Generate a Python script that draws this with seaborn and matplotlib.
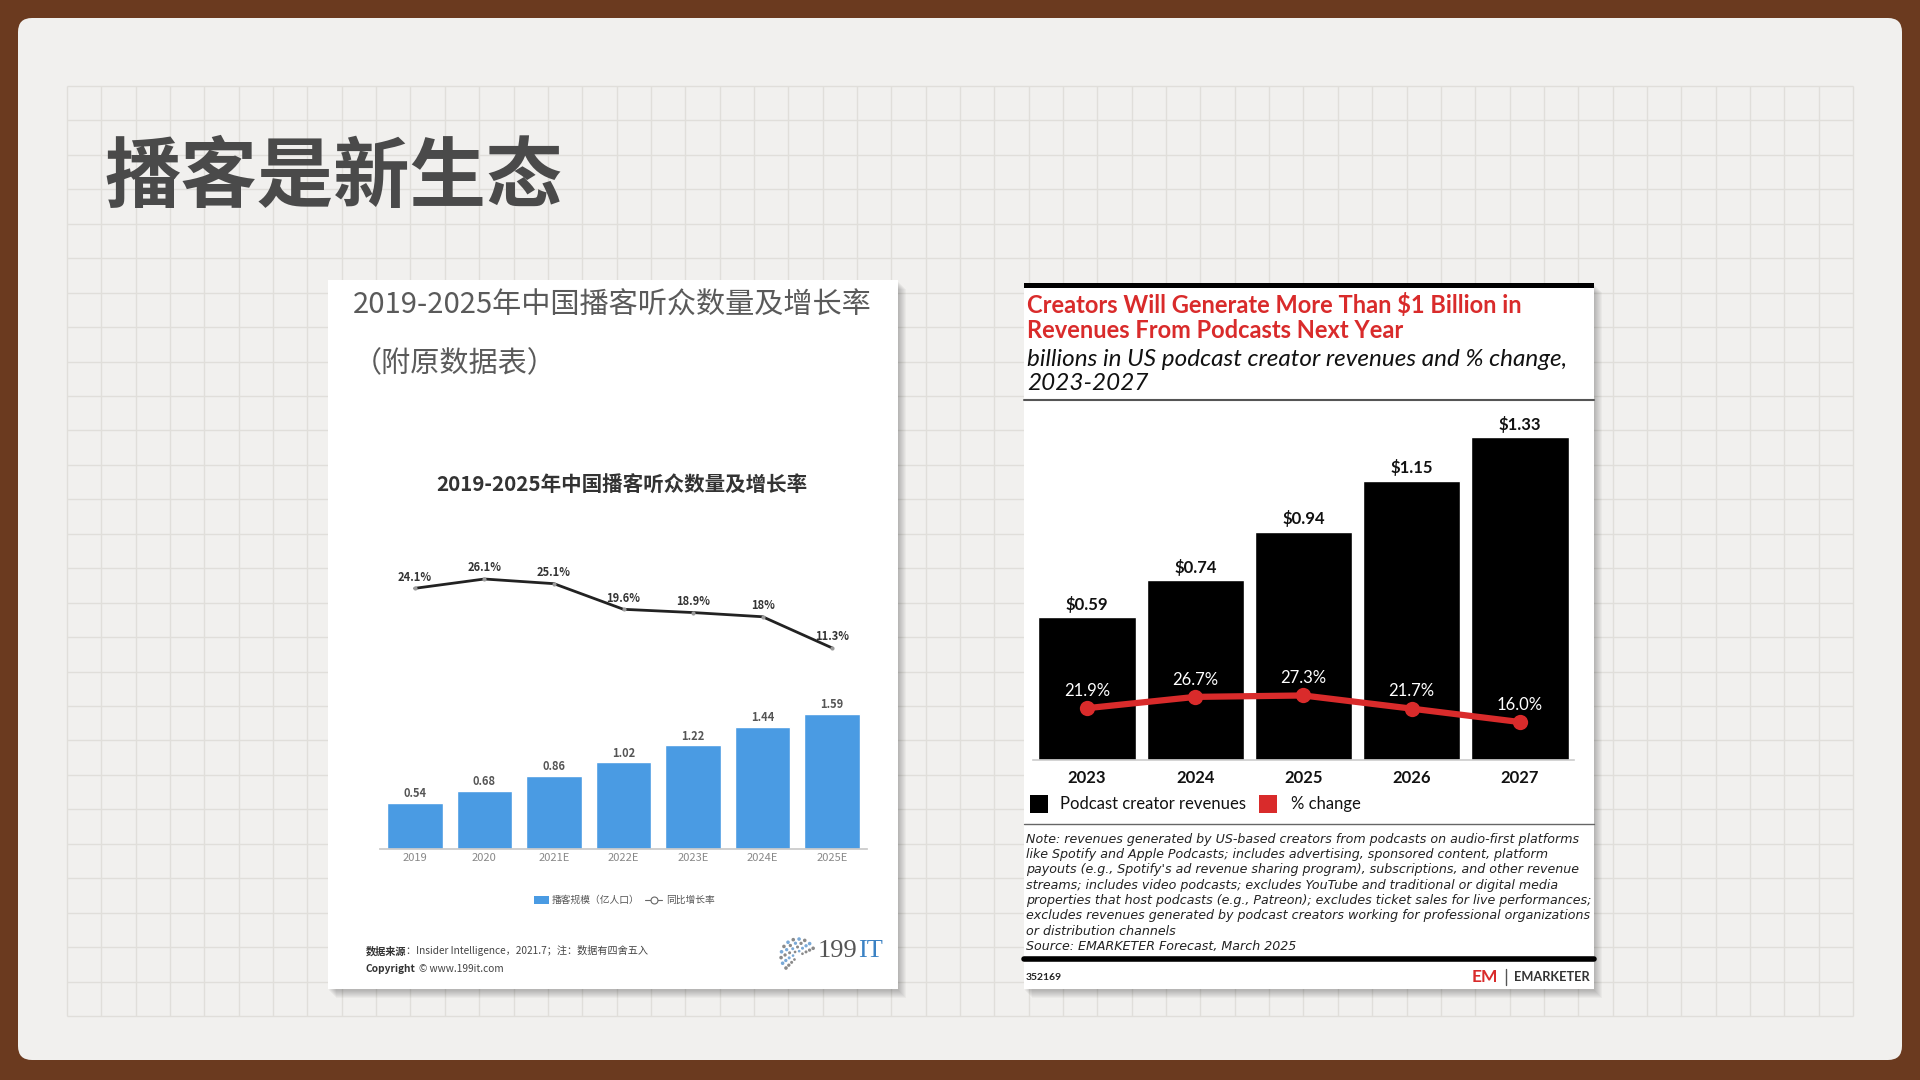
import numpy as np
import matplotlib
matplotlib.use("Agg")
import matplotlib.pyplot as plt
from matplotlib.patches import FancyBboxPatch, Rectangle
import seaborn as sns

# left chart: 2019-2025 China podcast listeners (100M people) and growth
cn_years = ["2019", "2020", "2021E", "2022E", "2023E", "2024E", "2025E"]
cn_listeners = [0.54, 0.68, 0.86, 1.02, 1.22, 1.44, 1.59]
cn_growth = [24.1, 26.1, 25.1, 19.6, 18.9, 18.0, 11.3]
cn_growth_labels = ["24.1%", "26.1%", "25.1%", "19.6%", "18.9%", "18%", "11.3%"]

# right chart: US podcast creator revenues (billions) and % change
us_years = ["2023", "2024", "2025", "2026", "2027"]
us_revenue = [0.59, 0.74, 0.94, 1.15, 1.33]
us_change = [21.9, 26.7, 27.3, 21.7, 16.0]

note_lines = [
    "Note: revenues generated by US-based creators from podcasts on audio-first platforms",
    "like Spotify and Apple Podcasts; includes advertising, sponsored content, platform",
    "payouts (e.g., Spotify's ad revenue sharing program), subscriptions, and other revenue",
    "streams; includes video podcasts; excludes YouTube and traditional or digital media",
    "properties that host podcasts (e.g., Patreon); excludes ticket sales for live performances;",
    "excludes revenues generated by podcast creators working for professional organizations",
    "or distribution channels",
    "Source: EMARKETER Forecast, March 2025",
]

W, H = 1920, 1080
EN = ["Lato", "DejaVu Sans"]

sns.set_theme(style="white")
plt.rcParams["font.family"] = ["Noto Sans CJK SC", "DejaVu Sans"]

fig = plt.figure(figsize=(19.2, 10.8), dpi=100)
fig.patch.set_facecolor("#6b3a1f")

bg = fig.add_axes([0, 0, 1, 1])
bg.set_xlim(0, W)
bg.set_ylim(H, 0)
bg.axis("off")


def px_axes(left, top, right, bottom):
    a = fig.add_axes([left / W, 1 - bottom / H, (right - left) / W, (bottom - top) / H])
    a.set_facecolor("none")
    return a


# slide card + grid paper
bg.add_patch(FancyBboxPatch((18, 18), 1884, 1042, boxstyle="round,pad=0,rounding_size=14",
                            fc="#f1f0ee", ec="none", zorder=0))
bg.vlines(np.linspace(67, 1853, 53), 86, 1016, color="#e0deda", lw=1, zorder=0.5)
bg.hlines(np.linspace(86, 1016, 28), 67, 1853, color="#e0deda", lw=1, zorder=0.5)

bg.text(104, 178, "播客是新生态", fontsize=55, fontweight="bold", color="#4a4a4a", va="center")


def panel(x0, y0, x1, y1):
    for i in range(8):
        bg.add_patch(Rectangle((x0 + 1 + i, y0 + 2 + i), x1 - x0, y1 - y0, fc="black",
                               alpha=0.03, ec="none", zorder=1))
    bg.add_patch(Rectangle((x0, y0), x1 - x0, y1 - y0, fc="white", ec="none", zorder=1))


panel(328, 280, 898, 989)
panel(1024, 283, 1594, 989)

# ---------------- left panel ----------------
bg.text(353, 306, "2019-2025年中国播客听众数量及增长率", fontsize=21, color="#5a5a5a", va="center")
bg.text(353, 364, "（附原数据表）", fontsize=21, color="#5a5a5a", va="center")
bg.text(622, 485, "2019-2025年中国播客听众数量及增长率", fontsize=14.8, fontweight="bold",
        color="#333333", ha="center", va="center")

axl = px_axes(380, 560, 867, 849)
sns.barplot(x=cn_years, y=cn_listeners, color="#4a9be3", saturation=1, width=0.8, ax=axl)
axl.set_xlim(-0.5, 6.5)
axl.set_ylim(0, 3.404)
axl.bar_label(axl.containers[0], labels=[f"{v:.2f}" for v in cn_listeners], padding=2,
              fontsize=8, fontweight="bold", color="#555555")
for s in ["top", "left", "right"]:
    axl.spines[s].set_visible(False)
axl.spines["bottom"].set_color("#c9c9c9")
axl.set_yticks([])
axl.set_xlabel("")
axl.set_ylabel("")
axl.tick_params(axis="x", length=0, colors="#888888", labelsize=8, pad=3)

axl2 = axl.twinx()
sns.lineplot(x=np.arange(len(cn_growth)), y=cn_growth, ax=axl2, color="#222222", lw=2,
             marker="o", markersize=3, markerfacecolor="#999999", markeredgewidth=0)
axl2.set_xlim(-0.5, 6.5)
axl2.set_ylim(-31.84, 30.18)
axl2.set_axis_off()
for i, (v, lab) in enumerate(zip(cn_growth, cn_growth_labels)):
    axl2.annotate(lab, (i, v), xytext=(0, 8), textcoords="offset points", ha="center", va="center",
                  fontsize=8, fontweight="bold", color="#333333")

# legend of left chart
bg.add_patch(Rectangle((534, 896), 15, 8, fc="#4a9be3", ec="none", zorder=2))
bg.text(552, 900, "播客规模（亿人口）", fontsize=7, color="#555555", va="center")
bg.plot([645, 662], [900, 900], color="#666666", lw=0.8)
bg.plot([653.5], [900], marker="o", ms=5, mfc="white", mec="#666666", mew=0.8)
bg.text(666, 900, "同比增长率", fontsize=7, color="#555555", va="center")

# source lines
renderer = fig.canvas.get_renderer()
t1 = bg.text(366, 951, "数据来源", fontsize=7.3, fontweight="bold", color="#333333", va="center")
w1 = t1.get_window_extent(renderer).width
bg.text(366 + w1, 951, "：Insider Intelligence，2021.7；注：数据有四舍五入", fontsize=7.3,
        color="#444444", va="center")
t2 = bg.text(366, 969, "Copyright", fontsize=7.3, fontweight="bold", color="#333333", va="center")
w2 = t2.get_window_extent(renderer).width
bg.text(366 + w2 + 3, 969, "© www.199it.com", fontsize=7.3, color="#444444", va="center")

# 199IT logo (dot fan + wordmark)
for r, n in [(5, 5), (9, 7), (13, 9), (17, 11)]:
    ang = np.linspace(np.pi * 0.15, np.pi * 1.25, n)
    bg.scatter(798 + r * np.cos(ang), 956 - r * np.sin(ang), s=2.5 + r * 0.25,
               color=["#7aa9d6" if k % 2 else "#8a8a8a" for k in range(n)], lw=0, zorder=3)
t3 = bg.text(818, 951, "199", fontsize=19, family=["Liberation Serif", "DejaVu Serif"],
             color="#555555", va="center")
w3 = t3.get_window_extent(renderer).width
bg.text(818 + w3, 951, "IT", fontsize=19, family=["Liberation Serif", "DejaVu Serif"],
        color="#3b82c4", va="center")

# ---------------- right panel ----------------
bg.add_patch(Rectangle((1024, 283), 570, 5, fc="black", ec="none", zorder=2))
bg.text(1027, 305, "Creators Will Generate More Than $1 Billion in", fontsize=17, fontweight="bold",
        color="#d92b2b", family=EN, va="center")
bg.text(1027, 330, "Revenues From Podcasts Next Year", fontsize=17, fontweight="bold",
        color="#d92b2b", family=EN, va="center")
bg.text(1027, 359, "billions in US podcast creator revenues and % change,", fontsize=17.5,
        style="italic", color="#111111", family=EN, va="center")
bg.text(1027, 383, "2023-2027", fontsize=17.5, style="italic", color="#111111", family=EN, va="center")
bg.plot([1024, 1594], [400, 400], color="#555555", lw=1.5)

axr = px_axes(1033, 408, 1574, 760)
sns.barplot(x=us_years, y=us_revenue, color="black", saturation=1, width=0.9, ax=axr)
axr.set_xlim(-0.5, 4.5)
axr.set_ylim(0, 1.449)
axr.bar_label(axr.containers[0], labels=[f"${v:.2f}" for v in us_revenue], padding=3,
              fontsize=12, fontweight="bold", color="#111111", family=EN)
for s in ["top", "left", "right"]:
    axr.spines[s].set_visible(False)
axr.spines["bottom"].set_color("#cccccc")
axr.spines["bottom"].set_linewidth(1.2)
axr.set_yticks([])
axr.set_xlabel("")
axr.set_ylabel("")
axr.tick_params(axis="x", length=0, colors="#111111", labelsize=12, pad=7)
for lab in axr.get_xticklabels():
    lab.set_fontweight("bold")
    lab.set_family(EN)

axr2 = axr.twinx()
sns.lineplot(x=np.arange(len(us_change)), y=us_change, ax=axr2, color="#d92b2b", lw=4.5,
             marker="o", markersize=11, markeredgewidth=0)
axr2.set_xlim(-0.5, 4.5)
axr2.set_ylim(-0.15, 149.6)
axr2.set_axis_off()
for i, v in enumerate(us_change):
    axr2.annotate(f"{v:.1f}%", (i, v), xytext=(0, 12.5), textcoords="offset points", ha="center",
                  va="center", fontsize=12, color="white", family=EN)

# legend of right chart
bg.add_patch(Rectangle((1030, 795), 18, 18, fc="black", ec="none", zorder=2))
bg.text(1060, 804, "Podcast creator revenues", fontsize=12, color="#111111", family=EN, va="center")
bg.add_patch(Rectangle((1259, 795), 18, 18, fc="#d92b2b", ec="none", zorder=2))
bg.text(1291, 804, "% change", fontsize=12, color="#111111", family=EN, va="center")
bg.plot([1024, 1594], [824, 824], color="#666666", lw=1)

for i, line in enumerate(note_lines):
    bg.text(1026, 839 + i * 15.4, line, fontsize=9.1, style="italic", color="#222222",
            family=["DejaVu Sans"], va="center")

bg.plot([1024, 1594], [959, 959], color="black", lw=4)
bg.text(1026, 977, "352169", fontsize=7.5, fontweight="bold", color="#222222", family=EN, va="center")
bg.text(1590, 977, "EMARKETER", fontsize=9.2, fontweight="bold", color="#333333", family=EN,
        ha="right", va="center")
bg.plot([1506, 1506], [969, 985], color="#555555", lw=1)
bg.text(1472, 977, "EM", fontsize=12.5, fontweight="bold", color="#d92b2b", family=EN, va="center")

fig.savefig("out.png", dpi=100, facecolor=fig.get_facecolor())
